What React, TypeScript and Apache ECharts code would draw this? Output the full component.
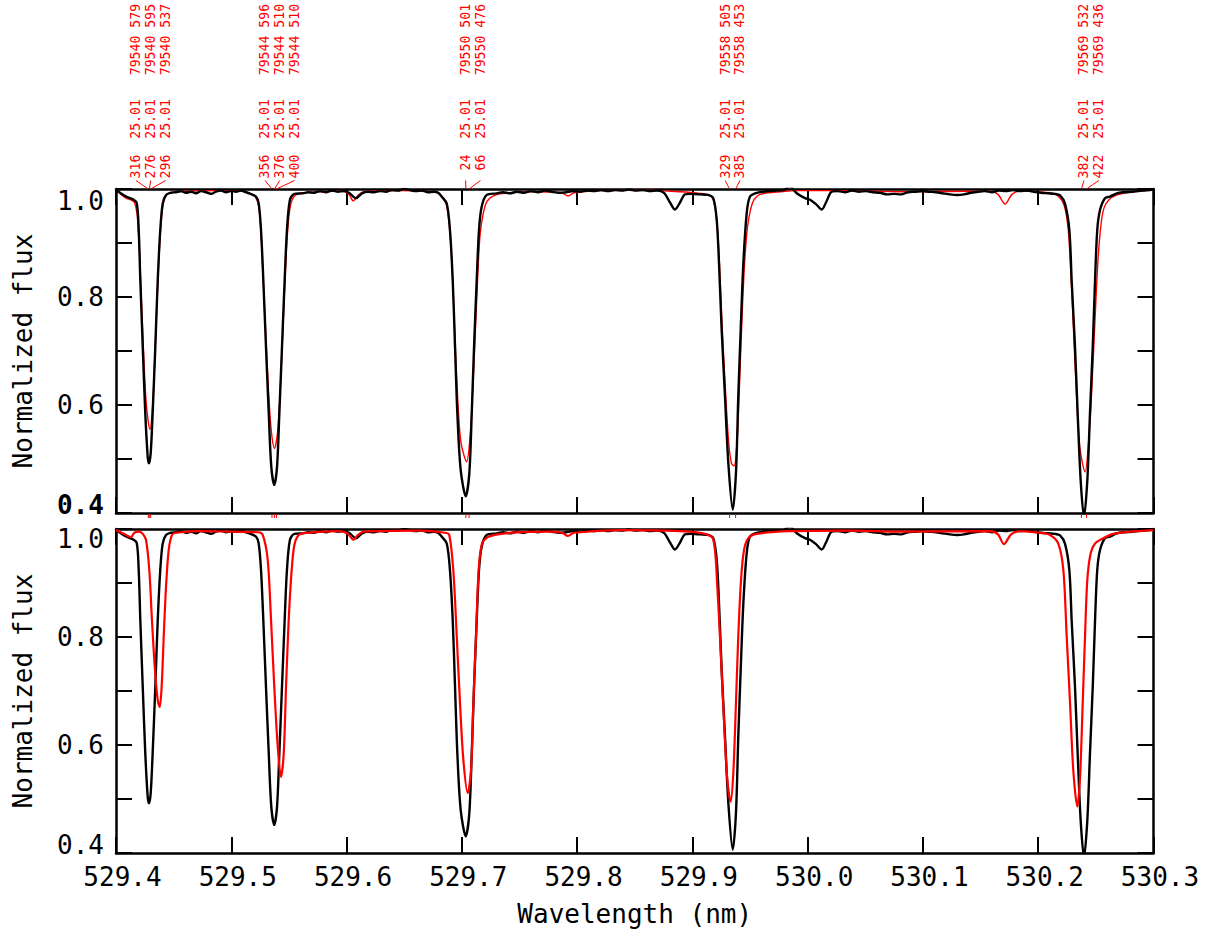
import { useEffect, useRef } from "react";
import * as echarts from "echarts";

// ---------- data ----------
const obsWl = [
  529.4000, 529.4087, 529.4145, 529.4180, 529.4197, 529.4211, 529.4232, 529.4254, 529.4275, 529.4286,
  529.4301, 529.4318, 529.4341, 529.4362, 529.4384, 529.4405, 529.4434, 529.4477, 529.4520, 529.4564,
  529.4607, 529.4651, 529.4694, 529.4737, 529.4781, 529.4824, 529.4867, 529.4911, 529.4954, 529.4998,
  529.5041, 529.5084, 529.5128, 529.5156, 529.5214, 529.5238, 529.5258, 529.5278, 529.5301, 529.5325,
  529.5347, 529.5373, 529.5397, 529.5417, 529.5440, 529.5463, 529.5483, 529.5509, 529.5547, 529.5620,
  529.5666, 529.5718, 529.5770, 529.5822, 529.5874, 529.5926, 529.5978, 529.6021, 529.6082, 529.6134,
  529.6186, 529.6238, 529.6290, 529.6342, 529.6394, 529.6446, 529.6498, 529.6550, 529.6602, 529.6654,
  529.6707, 529.6759, 529.6793, 529.6825, 529.6869, 529.6897, 529.6921, 529.6941, 529.6961, 529.6990,
  529.7034, 529.7065, 529.7086, 529.7106, 529.7129, 529.7149, 529.7172, 529.7216, 529.7302, 529.7357,
  529.7418, 529.7479, 529.7539, 529.7600, 529.7661, 529.7721, 529.7782, 529.7843, 529.7904, 529.7964,
  529.8025, 529.8086, 529.8147, 529.8207, 529.8268, 529.8329, 529.8389, 529.8450, 529.8511, 529.8572,
  529.8632, 529.8693, 529.8754, 529.8806, 529.8849, 529.8893, 529.8936, 529.8997, 529.9066, 529.9135,
  529.9181, 529.9211, 529.9231, 529.9254, 529.9283, 529.9312, 529.9350, 529.9378, 529.9398, 529.9419,
  529.9442, 529.9471, 529.9500, 529.9558, 529.9612, 529.9673, 529.9734, 529.9789, 529.9847, 529.9905,
  529.9977, 530.0020, 530.0072, 530.0122, 530.0159, 530.0209, 530.0263, 530.0324, 530.0385, 530.0445,
  530.0506, 530.0567, 530.0627, 530.0688, 530.0749, 530.0810, 530.0870, 530.0931, 530.0992, 530.1053,
  530.1113, 530.1174, 530.1235, 530.1295, 530.1356, 530.1417, 530.1478, 530.1538, 530.1599, 530.1660,
  530.1720, 530.1781, 530.1842, 530.1903, 530.1963, 530.2024, 530.2085, 530.2146, 530.2189, 530.2232,
  530.2270, 530.2290, 530.2319, 530.2342, 530.2368, 530.2397, 530.2426, 530.2449, 530.2473, 530.2493,
  530.2512, 530.2536, 530.2579, 530.2623, 530.2681, 530.2735, 530.2822, 530.2900, 530.2970, 530.3000,
];
const obsFlux = [
  0.998, 0.986, 0.981, 0.974, 0.924, 0.831, 0.708, 0.585, 0.504, 0.492,
  0.511, 0.585, 0.708, 0.831, 0.924, 0.973, 0.989, 0.993, 0.994, 0.996,
  0.993, 0.995, 0.992, 0.996, 0.994, 0.991, 0.995, 0.997, 0.994, 0.996,
  0.995, 0.997, 0.994, 0.992, 0.986, 0.973, 0.924, 0.831, 0.708, 0.585,
  0.486, 0.452, 0.486, 0.585, 0.708, 0.831, 0.924, 0.980, 0.991, 0.992,
  0.994, 0.993, 0.996, 0.994, 0.997, 0.995, 0.996, 0.993, 0.983, 0.992,
  0.995, 0.994, 0.996, 0.995, 0.998, 0.997, 1.000, 0.998, 0.996, 0.997,
  0.994, 0.995, 0.993, 0.986, 0.973, 0.924, 0.831, 0.708, 0.585, 0.480,
  0.431, 0.474, 0.585, 0.708, 0.831, 0.924, 0.967, 0.989, 0.992, 0.994,
  0.992, 0.995, 0.993, 0.996, 0.994, 0.997, 0.995, 0.993, 0.994, 0.996,
  0.995, 0.997, 0.996, 0.998, 0.996, 0.998, 0.997, 0.999, 0.997, 0.998,
  0.996, 0.997, 0.993, 0.975, 0.962, 0.975, 0.990, 0.991, 0.990, 0.989,
  0.983, 0.943, 0.862, 0.739, 0.615, 0.492, 0.406, 0.474, 0.615, 0.739,
  0.862, 0.955, 0.986, 0.993, 0.995, 0.996, 0.997, 0.998, 1.004, 0.992,
  0.983, 0.980, 0.972, 0.962, 0.975, 0.995, 0.996, 0.994, 0.997, 0.995,
  0.996, 0.994, 0.993, 0.990, 0.991, 0.990, 0.994, 0.995, 0.996, 0.995,
  0.994, 0.992, 0.990, 0.989, 0.990, 0.993, 0.995, 0.996, 0.994, 0.997,
  0.996, 0.998, 0.996, 0.997, 0.995, 0.993, 0.992, 0.991, 0.988, 0.973,
  0.924, 0.831, 0.708, 0.585, 0.461, 0.392, 0.461, 0.585, 0.708, 0.831,
  0.924, 0.961, 0.983, 0.986, 0.992, 0.994, 0.995, 0.997, 0.998, 0.999,
];

// model fitted (top panel)
const fitWl = [
  529.4000, 529.4043, 529.4087, 529.4130, 529.4160, 529.4182, 529.4200, 529.4217, 529.4237, 529.4258,
  529.4279, 529.4295, 529.4312, 529.4330, 529.4350, 529.4370, 529.4390, 529.4412, 529.4442, 529.4486,
  529.4642, 529.4859, 529.5076, 529.5162, 529.5210, 529.5241, 529.5262, 529.5284, 529.5306, 529.5327,
  529.5349, 529.5375, 529.5401, 529.5423, 529.5444, 529.5466, 529.5488, 529.5514, 529.5553, 529.5622,
  529.5770, 529.5943, 529.6013, 529.6059, 529.6099, 529.6151, 529.6464, 529.6793, 529.6828, 529.6867,
  529.6897, 529.6921, 529.6943, 529.6967, 529.6993, 529.7042, 529.7071, 529.7093, 529.7114, 529.7136,
  529.7158, 529.7186, 529.7218, 529.7262, 529.7331, 529.7591, 529.7869, 529.7921, 529.7973, 529.8199,
  529.8546, 529.8893, 529.9066, 529.9153, 529.9188, 529.9214, 529.9235, 529.9257, 529.9286, 529.9315,
  529.9339, 529.9361, 529.9387, 529.9409, 529.9430, 529.9452, 529.9478, 529.9508, 529.9534, 529.9586,
  529.9760, 529.9934, 530.0367, 530.0801, 530.1582, 530.1651, 530.1712, 530.1773, 530.1842, 530.2102,
  530.2172, 530.2224, 530.2258, 530.2282, 530.2306, 530.2332, 530.2362, 530.2406, 530.2440, 530.2467,
  530.2493, 530.2519, 530.2545, 530.2571, 530.2614, 530.2683, 530.2796, 530.3000,
];
const fitFlux = [
  0.999, 0.990, 0.983, 0.980, 0.975, 0.955, 0.900, 0.815, 0.708, 0.615,
  0.570, 0.555, 0.580, 0.650, 0.760, 0.860, 0.935, 0.975, 0.990, 0.994,
  0.996, 0.997, 0.996, 0.992, 0.985, 0.965, 0.900, 0.800, 0.700, 0.610,
  0.548, 0.520, 0.548, 0.620, 0.720, 0.830, 0.920, 0.970, 0.988, 0.993,
  0.995, 0.996, 0.992, 0.978, 0.988, 0.995, 0.997, 0.994, 0.986, 0.970,
  0.920, 0.830, 0.710, 0.600, 0.530, 0.495, 0.540, 0.620, 0.720, 0.830,
  0.915, 0.955, 0.977, 0.986, 0.991, 0.995, 0.993, 0.987, 0.993, 0.997,
  0.998, 0.995, 0.992, 0.988, 0.975, 0.935, 0.860, 0.750, 0.630, 0.530,
  0.492, 0.487, 0.530, 0.640, 0.760, 0.860, 0.930, 0.965, 0.980, 0.990,
  0.995, 0.997, 0.997, 0.995, 0.996, 0.990, 0.972, 0.990, 0.996, 0.993,
  0.987, 0.970, 0.930, 0.850, 0.740, 0.620, 0.520, 0.476, 0.540, 0.640,
  0.760, 0.870, 0.935, 0.965, 0.980, 0.989, 0.994, 0.998,
];

// model before shift correction (bottom panel)
const rawWl = [
  529.4000, 529.4087, 529.4130, 529.4159, 529.4202, 529.4232, 529.4260, 529.4289, 529.4312, 529.4338,
  529.4362, 529.4379, 529.4396, 529.4414, 529.4434, 529.4457, 529.4486, 529.4520, 529.4729, 529.4989,
  529.5232, 529.5273, 529.5316, 529.5345, 529.5373, 529.5403, 529.5431, 529.5455, 529.5475, 529.5498,
  529.5524, 529.5547, 529.5585, 529.5648, 529.5943, 529.6013, 529.6059, 529.6099, 529.6151, 529.6637,
  529.6854, 529.6891, 529.6926, 529.6956, 529.6984, 529.7013, 529.7051, 529.7080, 529.7100, 529.7123,
  529.7146, 529.7175, 529.7224, 529.7288, 529.7418, 529.7765, 529.7869, 529.7921, 529.7973, 529.8372,
  529.8893, 529.9109, 529.9181, 529.9216, 529.9246, 529.9274, 529.9303, 529.9332, 529.9355, 529.9378,
  529.9398, 529.9422, 529.9448, 529.9485, 529.9558, 529.9847, 530.0367, 530.0801, 530.1582, 530.1651,
  530.1703, 530.1764, 530.1842, 530.2015, 530.2102, 530.2174, 530.2218, 530.2247, 530.2276, 530.2304,
  530.2339, 530.2362, 530.2386, 530.2406, 530.2426, 530.2455, 530.2493, 530.2565, 530.2651, 530.2796,
  530.3000,
];
const rawFlux = [
  0.998, 0.989, 0.985, 0.993, 0.995, 0.991, 0.980, 0.924, 0.831, 0.739,
  0.683, 0.670, 0.708, 0.801, 0.893, 0.961, 0.989, 0.993, 0.996, 0.995,
  0.994, 0.989, 0.943, 0.831, 0.708, 0.597, 0.541, 0.584, 0.708, 0.831,
  0.924, 0.970, 0.989, 0.993, 0.996, 0.991, 0.980, 0.989, 0.995, 0.997,
  0.993, 0.989, 0.924, 0.801, 0.678, 0.573, 0.511, 0.554, 0.678, 0.801,
  0.924, 0.973, 0.985, 0.989, 0.993, 0.995, 0.993, 0.987, 0.993, 0.998,
  0.996, 0.991, 0.981, 0.893, 0.770, 0.646, 0.536, 0.495, 0.548, 0.678,
  0.801, 0.906, 0.961, 0.983, 0.991, 0.996, 0.997, 0.995, 0.996, 0.990,
  0.972, 0.990, 0.996, 0.993, 0.989, 0.973, 0.924, 0.801, 0.678, 0.554,
  0.486, 0.536, 0.678, 0.801, 0.906, 0.955, 0.973, 0.983, 0.991, 0.995,
  0.998,
];

// line identifications (top annotations)
const idWl = [
  529.4280, 529.4289, 529.4301,
  529.5353, 529.5374, 529.5392,
  529.7035, 529.7063,
  529.9323, 529.9375,
  530.2375, 530.2419,
];
const idGroup = [0, 0, 0, 1, 1, 1, 2, 2, 3, 3, 4, 4];
const idText = [
  "316  25.01   79540 579",
  "276  25.01   79540 595",
  "296  25.01   79540 537",
  "356  25.01   79544 596",
  "376  25.01   79544 510",
  "400  25.01   79544 510",
  " 24  25.01   79550 501",
  " 66  25.01   79550 476",
  "329  25.01   79558 505",
  "385  25.01   79558 453",
  "382  25.01   79569 532",
  "422  25.01   79569 436",
];

const xMin = 529.4;
const xMax = 530.3;
const yMin = 0.4;
const yMax = 1.0;

// ---------- layout / style ----------
const groupShiftPx = [-12.3, -7, -0.2, -4.5, 2.5];
const colSpacingPx = 14.8;
const FONT = '"DejaVu Sans Mono", monospace';

const zip = (a: number[], b: number[]) => a.map((v, i) => [v, b[i]]);

export default function App() {
  const ref = useRef<HTMLDivElement>(null);

  useEffect(() => {
    if (!ref.current) return;
    const chart = echarts.init(ref.current, undefined, { renderer: "svg" });

    const axisLineStyle = { color: "#000", width: 2.5 };
    const tick = { show: true, inside: true, length: 16, lineStyle: { color: "#000", width: 2 } };

    const xBase = (grid: number, pos: "top" | "bottom", labels: boolean, name?: string) => ({
      type: "value",
      gridIndex: grid,
      position: pos,
      min: xMin,
      max: xMax,
      interval: 0.1,
      axisLine: { show: true, onZero: false, lineStyle: axisLineStyle },
      axisTick: tick,
      splitLine: { show: false },
      axisLabel: labels
        ? {
            show: true,
            margin: 11,
            color: "#000",
            fontFamily: FONT,
            fontSize: 26,
            padding: [0, 0, 0, 13],
            formatter: (v: number) => v.toFixed(1),
          }
        : { show: false },
      name: name || "",
      nameLocation: "middle",
      nameGap: 48,
      nameTextStyle: { color: "#000", fontFamily: FONT, fontSize: 26 },
    });

    const richBase = { fontFamily: FONT, fontSize: 26, color: "#000" };
    const yBase = (grid: number, pos: "left" | "right", labels: boolean, topPanel: boolean) => ({
      type: "value",
      gridIndex: grid,
      position: pos,
      min: yMin,
      max: yMax,
      interval: 0.1,
      axisLine: { show: true, onZero: false, lineStyle: axisLineStyle },
      axisTick: tick,
      splitLine: { show: false },
      axisLabel: labels
        ? {
            show: true,
            margin: 12,
            color: "#000",
            fontFamily: FONT,
            fontSize: 26,
            formatter: (v: number) => {
              const r = Math.round(v * 10);
              if (r % 2 !== 0) return "";
              const s = (r / 10).toFixed(1);
              if (r === 10) return "{t|" + s + "}";
              if (r === 4) return (topPanel ? "{bb|" : "{b|") + s + "}";
              return s;
            },
            rich: {
              t: { ...richBase, padding: [topPanel ? 24 : 20, 0, 0, 0] },
              b: { ...richBase, padding: [0, 0, 16, 0] },
              bb: { ...richBase, fontWeight: "bold", padding: [0, 0, 16, 0] },
            },
          }
        : { show: false },
      name: labels ? "Normalized flux" : "",
      nameLocation: "middle",
      nameGap: 80,
      nameTextStyle: { color: "#000", fontFamily: FONT, fontSize: 26 },
    });

    const option: any = {
      animation: false,
      backgroundColor: "#fff",
      grid: [
        { left: 116, right: 55.5, top: 189, height: 324 },
        { left: 116, right: 55.5, top: 529, height: 324 },
      ],
      xAxis: [
        xBase(0, "bottom", false),
        xBase(0, "top", false),
        xBase(1, "bottom", true, "Wavelength (nm)"),
        xBase(1, "top", false),
      ],
      yAxis: [
        yBase(0, "left", true, true),
        yBase(0, "right", false, true),
        yBase(1, "left", true, false),
        yBase(1, "right", false, false),
      ],
      series: [
        {
          type: "line",
          xAxisIndex: 0,
          yAxisIndex: 0,
          data: zip(fitWl, fitFlux),
          showSymbol: false,
          symbol: "none",
          smooth: 0.3,
          lineStyle: { color: "#ff0000", width: 1.4 },
          z: 2,
        },
        {
          type: "line",
          xAxisIndex: 0,
          yAxisIndex: 0,
          data: zip(obsWl, obsFlux),
          showSymbol: false,
          symbol: "none",
          smooth: 0.3,
          lineStyle: { color: "#000", width: 2.4 },
          z: 3,
        },
        {
          type: "line",
          xAxisIndex: 2,
          yAxisIndex: 2,
          data: zip(obsWl, obsFlux),
          showSymbol: false,
          symbol: "none",
          smooth: 0.3,
          lineStyle: { color: "#000", width: 2.4 },
          z: 2,
        },
        {
          type: "line",
          xAxisIndex: 2,
          yAxisIndex: 2,
          data: zip(rawWl, rawFlux),
          showSymbol: false,
          symbol: "none",
          smooth: 0.3,
          lineStyle: { color: "#ff0000", width: 2.2 },
          z: 3,
        },
        {
          type: "custom",
          xAxisIndex: 0,
          yAxisIndex: 0,
          clip: false,
          silent: true,
          z: 5,
          data: idWl.map((w, i) => [w, yMax, i]),
          renderItem: (params: any, api: any) => {
            const i = params.dataIndex;
            const g = idGroup[i];
            const first = idGroup.indexOf(g);
            const top = api.coord([idWl[i], yMax]);
            const bot = api.coord([idWl[i], yMin]);
            const firstPx = api.coord([idWl[first], yMax])[0];
            const cx = firstPx + groupShiftPx[g] + (i - first) * colSpacingPx;
            return {
              type: "group",
              children: [
                {
                  type: "text",
                  x: cx,
                  y: top[1] - 10.5,
                  rotation: Math.PI / 2,
                  style: {
                    text: idText[i],
                    fill: "#ff0000",
                    font: '13.2px "DejaVu Sans Mono", monospace',
                    align: "left",
                    verticalAlign: "middle",
                  },
                },
                {
                  type: "line",
                  shape: { x1: cx, y1: top[1] - 8.5, x2: top[0], y2: top[1] },
                  style: { stroke: "#ff0000", lineWidth: 1 },
                },
                {
                  type: "line",
                  shape: { x1: top[0], y1: bot[1] + 1.5, x2: top[0], y2: bot[1] + 5 },
                  style: { stroke: "#ff0000", lineWidth: 1 },
                },
              ],
            };
          },
        },
      ],
    };

    chart.setOption(option);
    return () => chart.dispose();
  }, []);

  return (
    <div
      ref={ref}
      style={{ position: "fixed", left: 0, top: 0, width: 1209, height: 935, background: "#fff" }}
    />
  );
}
